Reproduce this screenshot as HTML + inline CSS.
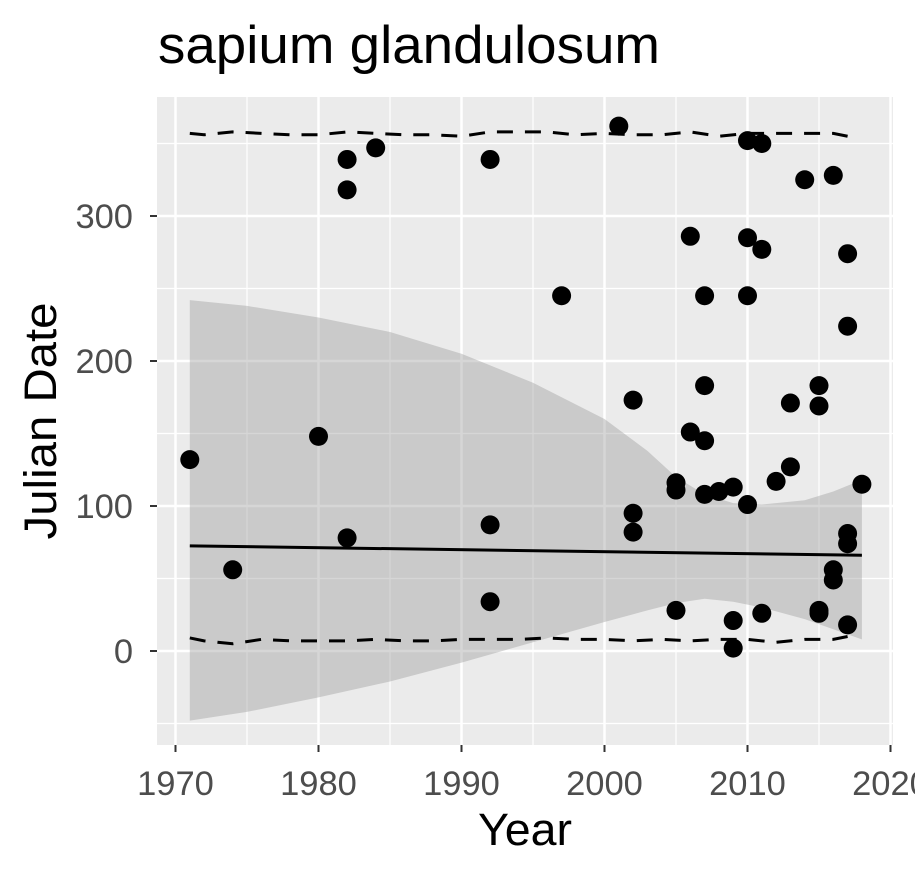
<!DOCTYPE html>
<html><head><meta charset="utf-8"><style>
body{margin:0;background:#fff;font-family:"Liberation Sans",Arial,sans-serif}
svg text{font-family:"Liberation Sans",Arial,sans-serif}
</style></head><body>
<svg id="chart" width="915" height="877" xmlns="http://www.w3.org/2000/svg">
<text x="158" y="63" font-size="53" textLength="502" lengthAdjust="spacingAndGlyphs" fill="#000">sapium glandulosum</text>
<rect x="157" y="97" width="736" height="648" fill="#ebebeb"/>
<g id="grid"></g><g id="ribbon"></g><g id="marks"></g><g id="axes"></g>
<text x="525" y="845" font-size="45" textLength="94" lengthAdjust="spacingAndGlyphs" text-anchor="middle" fill="#000">Year</text>
<text transform="translate(56,421) rotate(-90)" font-size="45" textLength="237" lengthAdjust="spacingAndGlyphs" text-anchor="middle" fill="#000">Julian Date</text>
</svg>
<script>
const years=[1971,1974,1980,1982,1982,1982,1984,1992,1992,1992,1997,2001,2002,2002,2002,2005,2005,2005,2006,2006,2007,2007,2007,2007,2008,2009,2009,2009,2010,2010,2010,2010,2011,2011,2011,2012,2013,2013,2014,2015,2015,2015,2015,2016,2016,2016,2017,2017,2017,2017,2017,2018];
const dates=[132,56,148,78,318,339,347,339,87,34,245,362,173,95,82,116,111,28,286,151,245,183,145,108,110,113,21,2,352,285,245,101,350,277,26,117,171,127,325,183,169,28,26,328,56,49,274,224,81,74,18,115];
const fitYears=[1971,2018];
const fitVals=[72.5,66];
const bandYears=[1971,1975,1980,1985,1990,1995,2000,2003,2005,2007,2009,2011,2014,2016,2018];
const bandUpper=[242,238,230,220,205,185,160,138,120,108,102,101,104,110,118];
const bandLower=[-48,-42,-32,-21,-8,6,20,28,33,36,34,30,22,15,8];
const qYears=[1971,1972,1974,1976,1978,1980,1982,1984,1986,1988,1990,1992,1994,1996,1998,2000,2002,2004,2006,2008,2010,2012,2014,2016,2017];
const qUpper=[357,356,358,357,356,356,358,357,356,356,355,358,358,358,356,357,356,356,358,355,357,357,357,357,355];
const qLower=[9,7,5,8,7,7,7,8,7,7,8,8,8,9,8,8,7,8,7,8,8,6,8,8,10];
const xTicks=[1970,1980,1990,2000,2010,2020];
const yTicks=[0,100,200,300];
const NS="http://www.w3.org/2000/svg";
const X=v=>175.5+(v-1970)*14.3;
const Y=v=>651-v*1.45;
const L=157,R=893,T=97,B=745;
function mk(tag,attrs,parent){const e=document.createElementNS(NS,tag);for(const k in attrs)e.setAttribute(k,attrs[k]);document.getElementById(parent).appendChild(e);return e;}
for(let v=1975;v<2020;v+=10){const e=mk('line',{x1:X(v),x2:X(v),y1:T,y2:B,stroke:'#fff','stroke-width':1.2},'grid');

}
for(let v=-50;v<=350;v+=100){const e=mk('line',{x1:L,x2:R,y1:Y(v),y2:Y(v),stroke:'#fff','stroke-width':1.2},'grid');

}
xTicks.forEach(v=>{const e=mk('line',{x1:X(v),x2:X(v),y1:T,y2:B,stroke:'#fff','stroke-width':2.5},'grid');


const t=mk('line',{x1:X(v),x2:X(v),y1:B,y2:B+7,stroke:'#333','stroke-width':2},'axes');


const l=mk('text',{x:X(v),y:795,'font-size':34.5,fill:'#4d4d4d','text-anchor':'middle'},'axes');l.textContent=v;

});
yTicks.forEach(v=>{const e=mk('line',{x1:L,x2:R,y1:Y(v),y2:Y(v),stroke:'#fff','stroke-width':2.5},'grid');


const t=mk('line',{x1:L-7,x2:L,y1:Y(v),y2:Y(v),stroke:'#333','stroke-width':2},'axes');


const l=mk('text',{x:133,y:Y(v)+12,'font-size':34.5,fill:'#4d4d4d','text-anchor':'end'},'axes');l.textContent=v;

});
let d='';bandYears.forEach((y,i)=>d+=(i?'L':'M')+X(y)+','+Y(bandUpper[i]));
for(let i=bandYears.length-1;i>=0;i--)d+='L'+X(bandYears[i])+','+Y(bandLower[i]);
const rb=mk('path',{d:d+'Z',fill:'#999','fill-opacity':0.4},'ribbon');


function line(xs,ys,extra,name){const p=mk('polyline',Object.assign({points:xs.map((x,i)=>X(x)+','+Y(ys[i])).join(' '),fill:'none',stroke:'#000','stroke-width':3},extra),'marks');

}
line(qYears,qUpper,{'stroke-dasharray':'16,12'},'upper-quantile-line');
line(qYears,qLower,{'stroke-dasharray':'16,12'},'lower-quantile-line');
line(fitYears,fitVals,{},'trend-line');
years.forEach((y,i)=>{const c=mk('circle',{cx:X(y),cy:Y(dates[i]),r:9.5,fill:'#000'},'marks');

});
</script>
</body></html>
